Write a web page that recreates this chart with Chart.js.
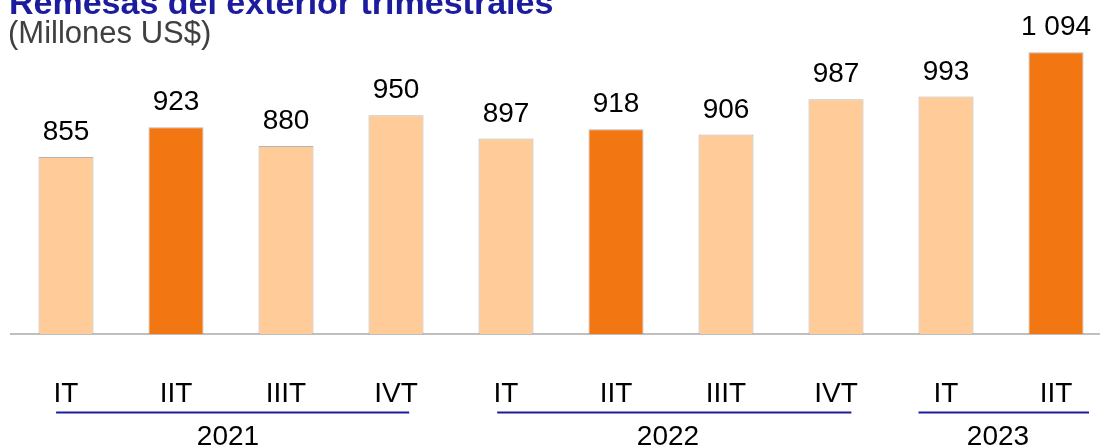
<!DOCTYPE html>
<html>
<head>
<meta charset="utf-8">
<script src="https://cdn.jsdelivr.net/npm/chart.js@4.4.1/dist/chart.umd.min.js"></script>
<style>
    html, body { margin: 0; padding: 0; background: #fff; overflow: hidden; }
    #wrap { position: relative; width: 1111px; height: 447px; }
</style>
</head>
<body>
<div id="wrap"><canvas id="remesasChart" width="1111" height="447"></canvas></div>
<script>
const quarters = ['IT', 'IIT', 'IIIT', 'IVT', 'IT', 'IIT', 'IIIT', 'IVT', 'IT', 'IIT'];
const remesas = [855, 923, 880, 950, 897, 918, 906, 987, 993, 1094];
const years = ['2021', '2022', '2023'];
const yearFirst = [0, 4, 8];
const yearLast = [3, 7, 9];

const lightOrange = '#FFCC99';
const darkOrange = '#F27612';
const fontFamily = '"Liberation Sans", Arial, sans-serif';
// how far each year's underline runs past its first / last label (share of a category)
const underlineExtend = [[0.09, 0.12], [0.08, 0.14], [0.25, 0.3]];

function formatValue(v) {
    return String(v).replace(/\B(?=(\d{3})+(?!\d))/g, ' ');
}

const headerPlugin = {
    id: 'header',
    afterDraw(chart) {
        const ctx = chart.ctx;
        ctx.save();
        ctx.textAlign = 'left';
        ctx.textBaseline = 'alphabetic';
        ctx.fillStyle = '#1c1c9e';
        ctx.font = 'bold 34px ' + fontFamily;
        ctx.fillText('Remesas del exterior trimestrales', 9, 14);
        ctx.fillStyle = '#404040';
        ctx.font = '31px ' + fontFamily;
        ctx.fillText('(Millones US$)', 8, 43);
        ctx.restore();
    }
};

const valueLabels = {
    id: 'valueLabels',
    afterDatasetsDraw(chart) {
        const ctx = chart.ctx;
        const meta = chart.getDatasetMeta(0);
        ctx.save();
        ctx.textAlign = 'center';
        ctx.textBaseline = 'alphabetic';
        ctx.fillStyle = '#000';
        ctx.font = '28px ' + fontFamily;
        meta.data.forEach((bar, i) => {
            ctx.fillText(formatValue(remesas[i]), bar.x, bar.y - 17);
        });
        ctx.restore();
    }
};

const yearGroups = {
    id: 'yearGroups',
    afterDraw(chart) {
        const ctx = chart.ctx;
        const x = chart.scales.x;
        const step = x.getPixelForValue(1) - x.getPixelForValue(0);
        ctx.save();
        ctx.strokeStyle = '#1c1c9e';
        ctx.lineWidth = 2;
        ctx.fillStyle = '#000';
        ctx.font = '28px ' + fontFamily;
        ctx.textAlign = 'center';
        ctx.textBaseline = 'alphabetic';
        years.forEach((year, i) => {
            const a = x.getPixelForValue(yearFirst[i]);
            const b = x.getPixelForValue(yearLast[i]);
            ctx.beginPath();
            ctx.moveTo(a - underlineExtend[i][0] * step, 412.5);
            ctx.lineTo(b + underlineExtend[i][1] * step, 412.5);
            ctx.stroke();
            ctx.fillText(year, (a + b) / 2 - 3, 445);
        });
        ctx.restore();
    }
};

const ctx = document.getElementById('remesasChart').getContext('2d');
new Chart(ctx, {
    type: 'bar',
    data: {
        labels: quarters,
        datasets: [{
            data: remesas,
            backgroundColor: quarters.map(q => q === 'IIT' ? darkOrange : lightOrange),
            borderColor: 'rgba(130, 130, 130, 0.6)',
            borderWidth: 1,
            categoryPercentage: 1,
            barPercentage: 0.5
        }]
    },
    options: {
        responsive: false,
        animation: false,
        layout: { padding: { left: 11, right: 0, top: 6, bottom: 0 } },
        plugins: {
            legend: { display: false },
            tooltip: { enabled: false }
        },
        scales: {
            x: {
                grid: { display: false },
                border: { display: true, color: '#bfbfbf', width: 2 },
                ticks: {
                    color: '#000',
                    font: { family: fontFamily, size: 28 },
                    padding: 35,
                    maxRotation: 0,
                    autoSkip: false
                },
                afterFit(scale) { scale.height = 113; }
            },
            y: {
                display: false,
                min: 450,
                max: 1200
            }
        }
    },
    plugins: [headerPlugin, valueLabels, yearGroups]
});
</script>
</body>
</html>
